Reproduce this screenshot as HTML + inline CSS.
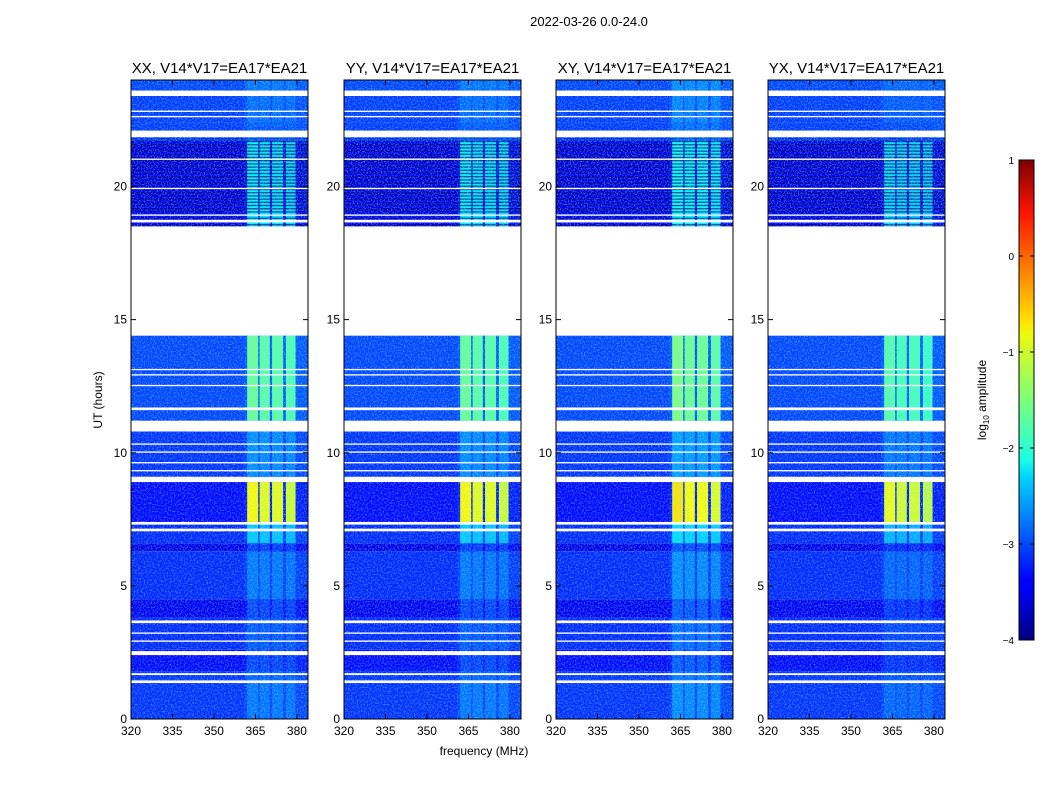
<!DOCTYPE html>
<html><head><meta charset="utf-8"><style>
body{margin:0;background:#fff;}
svg{display:block;font-family:"Liberation Sans",sans-serif;}
</style></head><body>
<svg id="fig" width="1050" height="800" viewBox="0 0 1050 800">
<defs>
<filter id="noise" x="0" y="0" width="100%" height="100%">
<feTurbulence type="fractalNoise" baseFrequency="0.7" numOctaves="1" seed="3"/>
<feColorMatrix type="matrix" values="0 0 0 0 0.2  0 0 0 0 0.75  0 0 0 0 1  0 0 0 2.6 -1.15"/>
</filter>
<pattern id="stripes" width="4" height="3.2" patternUnits="userSpaceOnUse">
<rect x="0" y="0" width="4" height="1.4" fill="#000060" opacity="0.85"/>
</pattern>
<linearGradient id="jet" x1="0" y1="1" x2="0" y2="0">
<stop offset="0" stop-color="#00007f"/><stop offset="0.11" stop-color="#0000ff"/>
<stop offset="0.125" stop-color="#0000ff"/><stop offset="0.34" stop-color="#00d4ff"/>
<stop offset="0.375" stop-color="#19ffe6"/><stop offset="0.5" stop-color="#7dff7a"/>
<stop offset="0.64" stop-color="#f0f90a"/><stop offset="0.66" stop-color="#ffe600"/>
<stop offset="0.89" stop-color="#ff1300"/><stop offset="1" stop-color="#7f0000"/>
</linearGradient>
</defs>
<text x="589" y="26" font-size="13" text-anchor="middle">2022-03-26 0.0-24.0</text>
<text x="484" y="755" font-size="12" text-anchor="middle">frequency (MHz)</text>
<text transform="translate(102,400) rotate(-90)" font-size="12" text-anchor="middle">UT (hours)</text>
<g id="panels"></g>
<g id="cbar"></g>
</svg>
<script>
// ---- data ----
const panelNames = ["XX, V14*V17=EA17*EA21","YY, V14*V17=EA17*EA21","XY, V14*V17=EA17*EA21","YX, V14*V17=EA17*EA21"];
const panelRfiOffset = [0, 0, 0.1, -0.1];
// time segments (hours) with background and RFI log10 amplitude
const segStart = [0, 1.5, 1.8, 2.6, 3.8, 4.5, 6.3, 6.6, 7.4, 9.1, 11.2, 18.5, 21.7, 22.4, 23.6];
const segEnd   = [1.5, 1.8, 2.6, 3.8, 4.5, 6.3, 6.6, 7.4, 8.9, 10.8, 14.4, 21.7, 22.4, 23.4, 24.0];
const segBg    = [-3.15, -3.15, -3.35, -3.2, -3.45, -3.2, -3.5, -3.2, -3.35, -3.15, -3.05, -3.4, -3.1, -3.1, -3.05];
const segRfi   = [-2.8, -2.9, -3.05, -2.95, -3.05, -2.8, -3.1, -2.4, -0.85, -2.7, -1.6, -2.2, -2.95, -2.85, -2.8];
// flagged (white) time intervals
const flagStart = [1.35, 1.65, 2.4, 2.9, 3.2, 3.6, 7.05, 7.3, 8.9, 9.3, 9.6, 10.0, 10.3, 10.8, 11.6, 12.5, 12.9, 13.1, 14.4, 18.65, 18.9, 19.9, 21.0, 21.85, 22.6, 22.8, 23.4];
const flagEnd   = [1.45, 1.72, 2.55, 2.95, 3.25, 3.7, 7.15, 7.4, 9.05, 9.35, 9.65, 10.05, 10.35, 11.2, 11.7, 12.55, 12.95, 13.15, 18.5, 18.75, 18.95, 19.95, 21.05, 22.1, 22.65, 22.85, 23.6];
// RFI channel bands (MHz) and relative gain
const bandLo   = [362, 366.5, 371, 376];
const bandHi   = [366, 370.2, 375, 379.5];
const bandGain = [1.0, 0.95, 0.95, 0.9];
const xTicks = [320, 335, 350, 365, 380];
const yTicks = [0, 5, 10, 15, 20];
const cbTicks = [1, 0, -1, -2, -3, -4];
// ---- layout ----
const panelX0 = [131, 344, 556, 768], panelW = 177, yTop = 80, yBot = 719;
const fMin = 320, fMax = 384, tMin = 0, tMax = 24, vMin = -4, vMax = 1;
const NS = "http://www.w3.org/2000/svg";
function el(tag, attrs, parent){const e=document.createElementNS(NS,tag);for(const k in attrs)e.setAttribute(k,attrs[k]);parent.appendChild(e);return e;}
function clamp(v){return Math.max(0,Math.min(1,v));}
function jet(v){const t=(v-vMin)/(vMax-vMin);const r=clamp(1.5-Math.abs(4*t-3)),g=clamp(1.5-Math.abs(4*t-2)),b=clamp(1.5-Math.abs(4*t-1));return `rgb(${Math.round(r*255)},${Math.round(g*255)},${Math.round(b*255)})`;}
const ys = h => yBot - (h - tMin) / (tMax - tMin) * (yBot - yTop);
const G = document.getElementById('panels');
panelNames.forEach((name, p) => {
  const x0 = panelX0[p];
  const xs = f => x0 + (f - fMin) / (fMax - fMin) * panelW;
  const g = el('g', {}, G);
  
  
  const cp = el('clipPath', {id: 'cp' + p}, g);
  el('rect', {x: x0, y: yTop, width: panelW, height: yBot - yTop}, cp);
  const d = el('g', {'clip-path': `url(#cp${p})`}, g);
  segStart.forEach((s, i) => {
    const y1 = ys(segEnd[i]), y0 = ys(s);
    const bg = el('rect', {x: x0, y: y1, width: panelW, height: y0 - y1, fill: jet(segBg[i])}, d);
    
    
    const halo = el('rect', {x: xs(361), y: y1, width: xs(384) - xs(361), height: y0 - y1, fill: jet(segBg[i] + 0.15), opacity: 0.6}, d);
    
    
    bandLo.forEach((lo, b) => {
      const v = segBg[i] + (segRfi[i] + panelRfiOffset[p] - segBg[i]) * bandGain[b];
      const r = el('rect', {x: xs(lo), y: y1, width: xs(bandHi[b]) - xs(lo), height: y0 - y1, fill: jet(v)}, d);
      
      
    });
  });
  el('rect', {x: x0, y: ys(21.8), width: panelW, height: ys(18.5) - ys(21.8), fill: 'url(#stripes)', opacity: 0.8}, d);
  el('rect', {x: x0, y: yTop, width: panelW, height: yBot - yTop, filter: 'url(#noise)', opacity: 0.6}, d);
  flagStart.forEach((s, i) => {
    const y1 = ys(flagEnd[i]), y0 = ys(s);
    const f = el('rect', {x: x0, y: y1, width: panelW, height: y0 - y1, fill: '#fff'}, d);
    
    
  });
  const fr = el('rect', {x: x0, y: yTop, width: panelW, height: yBot - yTop, fill: 'none', stroke: '#000', 'stroke-width': 1}, g);
  
  
  const tt = el('text', {x: x0 + panelW / 2, y: 73, 'font-size': 15, 'text-anchor': 'middle'}, g);
  tt.textContent = name;
  
  
  xTicks.forEach(t => {
    const x = xs(t);
    el('line', {x1: x, x2: x, y1: yBot, y2: yBot - 5, stroke: '#000'}, g);
    el('line', {x1: x, x2: x, y1: yTop, y2: yTop + 5, stroke: '#000'}, g);
    const lb = el('text', {x: x, y: yBot + 16, 'font-size': 12, 'text-anchor': 'middle'}, g);
    lb.textContent = t;
    
    
  });
  yTicks.forEach(t => {
    const y = ys(t);
    el('line', {x1: x0, x2: x0 + 5, y1: y, y2: y, stroke: '#000'}, g);
    el('line', {x1: x0 + panelW, x2: x0 + panelW - 5, y1: y, y2: y, stroke: '#000'}, g);
    const lb = el('text', {x: x0 - 4, y: y + 4, 'font-size': 12, 'text-anchor': 'end'}, g);
    lb.textContent = t;
    
    
  });
});
// colorbar
const C = document.getElementById('cbar');
const cx = 1019, cw = 15, cTop = 160, cBot = 640;
const cy = v => cBot - (v - vMin) / (vMax - vMin) * (cBot - cTop);
el('rect', {x: cx, y: cTop, width: cw, height: cBot - cTop, fill: 'url(#jet)', stroke: '#000'}, C);
cbTicks.forEach(t => {
  const y = cy(t);
  el('line', {x1: cx, x2: cx + 4, y1: y, y2: y, stroke: '#000'}, C);
  el('line', {x1: cx + cw, x2: cx + cw - 4, y1: y, y2: y, stroke: '#000'}, C);
  const lb = el('text', {x: cx - 5, y: y + 4, 'font-size': 10, 'text-anchor': 'end'}, C);
  lb.textContent = t < 0 ? '\u2212' + (-t) : t;
  
  
});
const cl = el('text', {transform: 'translate(986,400) rotate(-90)', 'font-size': 12, 'text-anchor': 'middle'}, C);
cl.innerHTML = 'log<tspan font-size="8" dy="3">10</tspan><tspan dy="-3"> amplitude</tspan>';


</script>
</body></html>
